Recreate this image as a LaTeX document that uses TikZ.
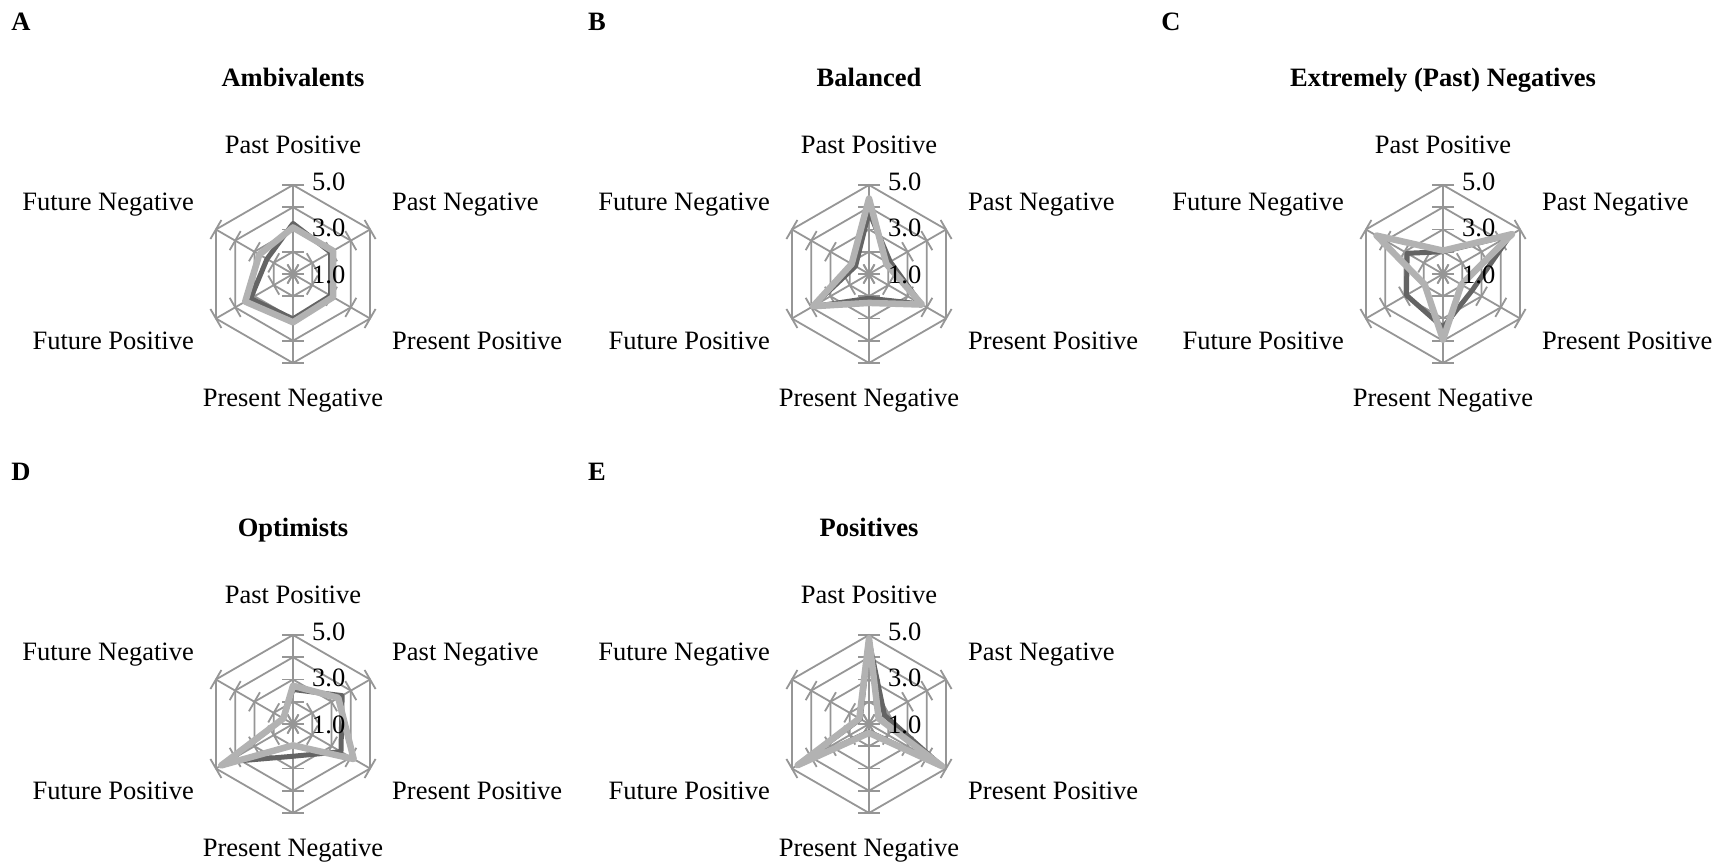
\documentclass[tikz,border=0pt]{standalone}
\usepackage{fontspec}
\setmainfont{Liberation Serif}
\begin{document}
\def\ru{22.25}
\tikzset{
  grid/.style={draw=gridgray, line width=1.8pt},
  darkser/.style={draw=sergray, line width=5pt, line join=round},
  lightser/.style={draw=serlight, line width=6.5pt, line join=round},
  lbl/.style={inner sep=0pt, anchor=base, font=\fontsize{26.5}{30}\selectfont},
  ttl/.style={inner sep=0pt, anchor=base, font=\fontsize{26.5}{30}\selectfont\bfseries},
  vlbl/.style={inner sep=0pt, anchor=west, font=\fontsize{26.5}{30}\selectfont},
}
\definecolor{gridgray}{RGB}{150,150,150}
\definecolor{sergray}{RGB}{100,100,100}
\definecolor{serlight}{RGB}{178,178,178}
\newcommand{\radarpanel}[5]{%
\begin{scope}[shift={(#2,#3)}]
  \coordinate (#1c) at (0,0);
  \foreach \r in {1,2,3,4}
    \draw[grid] (90:{\r*\ru}) -- (30:{\r*\ru}) -- (-30:{\r*\ru}) -- (-90:{\r*\ru}) -- (210:{\r*\ru}) -- (150:{\r*\ru}) -- cycle;
  \foreach \a in {90,30,-30,-90,210,150}{
    \draw[grid] (#1c) -- (\a:{4*\ru});
    \foreach \r in {0,1,2,3,4}
      \draw[grid,rotate=\a] ({\r*\ru},-11) -- ({\r*\ru},11);
  }
  \node[lbl] (#1pp) at (0,120) {Past Positive};
  \node[lbl,anchor=base west] (#1pn) at (99,63) {Past Negative};
  \node[lbl,anchor=base west] (#1prp) at (99,-76) {Present Positive};
  \node[lbl] (#1prn) at (0,-132.2) {Present Negative};
  \node[lbl,anchor=base east] (#1fp) at (-99,-76) {Future Positive};
  \node[lbl,anchor=base east] (#1fn) at (-99,63) {Future Negative};
  \node[ttl] (#1t) at (0,187.9) {#5};
  \node[ttl] (#1l) at (-272,243.2) {#4};
\end{scope}}
\newcommand{\series}[9]{%
\begin{scope}[shift={(#2,#3)}]
  \draw[#1] (90:{#4*\ru}) -- (30:{#5*\ru}) -- (-30:{#6*\ru}) -- (-90:{#7*\ru}) -- (210:{#8*\ru}) -- (150:{#9*\ru}) -- cycle;
\end{scope}}
\newcommand{\vals}[3]{%
\begin{scope}[shift={(#2,#3)}]
  \node[vlbl] (#1v5) at (19,{4*\ru+3}) {5.0};
  \node[vlbl] (#1v3) at (19,{2*\ru+2}) {3.0};
  \node[vlbl] (#1v1) at (19,-1) {1.0};
\end{scope}}
\begin{tikzpicture}[x=1pt,y=1pt]
\useasboundingbox (0,0) rectangle (1732,867);
\fill[white] (0,0) rectangle (1732,867);
% A
\radarpanel{A}{293}{593}{A}{Ambivalents}
\series{darkser}{293}{593}{2.27}{1.95}{1.95}{2.02}{2.2}{1.35}
\series{lightser}{293}{593}{2.09}{2.08}{2.08}{2.17}{2.48}{1.75}
\vals{A}{293}{593}
% B
\radarpanel{B}{869}{593}{B}{Balanced}
\series{darkser}{869}{593}{2.79}{1.1}{2.7}{1.09}{2.95}{0.7}
\series{lightser}{869}{593}{3.39}{0.9}{2.75}{1.3}{2.9}{0.9}
\vals{B}{869}{593}
% C
\radarpanel{C}{1443}{593}{C}{Extremely (Past) Negatives}
\series{darkser}{1443}{593}{1.0}{3.5}{1.5}{2.4}{1.9}{1.86}
\series{lightser}{1443}{593}{1.05}{3.58}{0.95}{2.95}{0.95}{3.45}
\vals{C}{1443}{593}
% D
\radarpanel{D}{293}{143}{D}{Optimists}
\series{darkser}{293}{143}{1.55}{2.55}{2.49}{1.45}{3.4}{0.5}
\series{lightser}{293}{143}{1.72}{2.35}{3.15}{0.96}{3.72}{0.5}
\vals{D}{293}{143}
% E
\radarpanel{E}{869}{143}{E}{Positives}
\series{darkser}{869}{143}{3.75}{0.8}{3.75}{0.35}{3.65}{0.45}
\series{lightser}{869}{143}{3.85}{0.5}{3.8}{0.4}{3.7}{0.5}
\vals{E}{869}{143}
\end{tikzpicture}
\end{document}
